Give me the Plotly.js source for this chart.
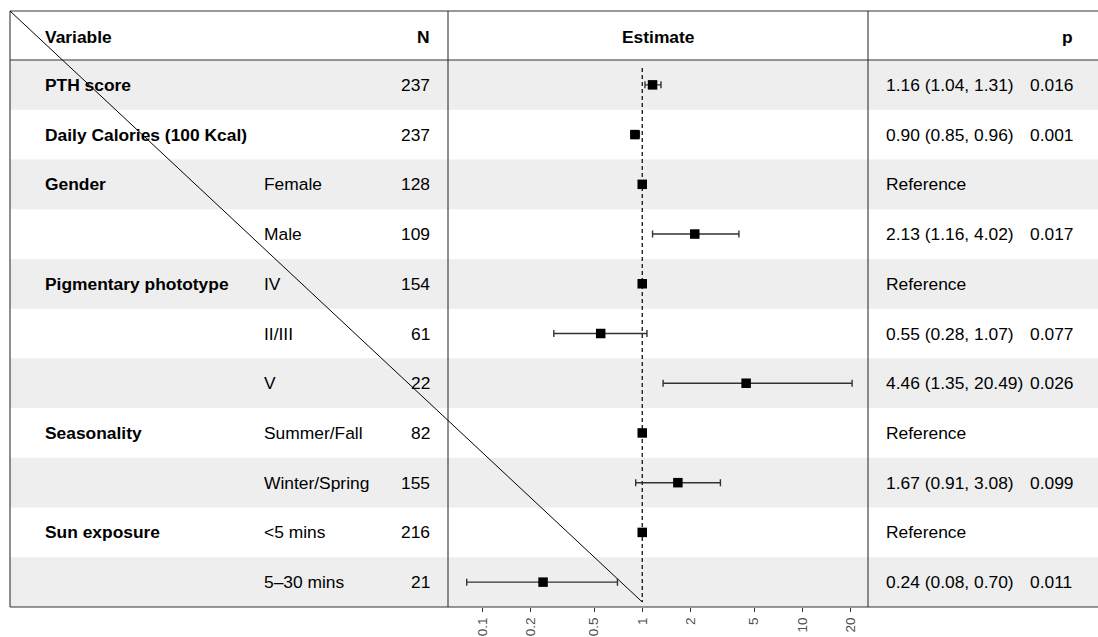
<!DOCTYPE html>
<html>
<head>
<meta charset="utf-8">
<script src="https://cdn.plot.ly/plotly-3.0.1.min.js"></script>
<style>html,body{margin:0;padding:0;background:#fff;}#chart{width:1098px;height:637px;}</style>
</head>
<body>
<div id="chart"></div>
<script>
// ---- data ----
const variables = ["PTH score", "Daily Calories (100 Kcal)", "Gender", "", "Pigmentary phototype", "", "", "Seasonality", "", "Sun exposure", ""];
const levels = ["", "", "Female", "Male", "IV", "II/III", "V", "Summer/Fall", "Winter/Spring", "<5 mins", "5\u201330 mins"];
const nObs = [237, 237, 128, 109, 154, 61, 22, 82, 155, 216, 21];
const estimate = [1.16, 0.90, 1, 2.13, 1, 0.55, 4.46, 1, 1.67, 1, 0.24];
const lower = [1.04, 0.85, null, 1.16, null, 0.28, 1.35, null, 0.91, null, 0.08];
const upper = [1.31, 0.96, null, 4.02, null, 1.07, 20.49, null, 3.08, null, 0.70];
const pValues = ["0.016", "0.001", "", "0.017", "", "0.077", "0.026", "", "0.099", "", "0.011"];
const tickValues = [0.1, 0.2, 0.5, 1, 2, 5, 10, 20];
const tickLabels = ["0.1", "0.2", "0.5", "1", "2", "5", "10", "20"];
const headers = {variable: "Variable", n: "N", estimate: "Estimate", p: "p"};

// ---- layout geometry (pixels) ----
const W = 1098, H = 637;
const tblLeft = 10, tblTop = 11, headBottom = 60, tblBottom = 607;
const col1 = 448, col2 = 868;
const px = x => x / W;
const py = y => 1 - y / H;
const FONT = "Liberation Sans, Arial, sans-serif";
const FS = 17.4;
const logRange = [-1.214, 1.411];
const xDomain = [px(col1), px(col2)];

const rows = estimate.map((_, i) => i + 1);

const ciText = estimate.map((e, i) => lower[i] === null ? "Reference" :
  e.toFixed(2) + " (" + lower[i].toFixed(2) + ", " + upper[i].toFixed(2) + ")");

// ---- traces ----
const refLine = {
  x: [1, 1], y: [0.66, 11.4], mode: "lines", type: "scatter",
  line: {color: "#000", width: 1.2, dash: "4px,3px"}, hoverinfo: "skip", showlegend: false
};
const points = {
  x: estimate, y: rows, type: "scatter", mode: "markers",
  marker: {symbol: "square", size: 9.5, color: "#000", line: {width: 0}},
  error_x: {
    type: "data", symmetric: false,
    array: estimate.map((e, i) => upper[i] === null ? null : upper[i] - e),
    arrayminus: estimate.map((e, i) => lower[i] === null ? null : e - lower[i]),
    color: "#333", thickness: 1.4, width: 3.5
  },
  showlegend: false, hoverinfo: "skip"
};

// ---- shapes ----
const shapes = [];
rows.forEach((r, i) => {
  if (i % 2 === 0) {
    shapes.push({type: "rect", xref: "paper", yref: "y", x0: px(tblLeft), x1: 1, y0: r - 0.5, y1: r + 0.5,
      fillcolor: "#eeeeee", line: {width: 0}, layer: "below"});
  }
});
const lineCol = "#333";
[[tblLeft, tblTop, W, tblTop], [tblLeft, headBottom, W, headBottom], [tblLeft, tblBottom, W, tblBottom],
 [tblLeft, tblTop, tblLeft, tblBottom], [col1, tblTop, col1, tblBottom], [col2, tblTop, col2, tblBottom]].forEach(s => {
  shapes.push({type: "line", xref: "paper", yref: "paper", x0: px(s[0]), y0: py(s[1]), x1: px(s[2]), y1: py(s[3]),
    line: {color: lineCol, width: 1.1}, layer: "above"});
});
// diagonal from table corner to the reference value at the bottom of the panel
const xOnePaper = xDomain[0] + (0 - logRange[0]) / (logRange[1] - logRange[0]) * (xDomain[1] - xDomain[0]);
shapes.push({type: "line", xref: "paper", yref: "paper", x0: px(tblLeft), y0: py(tblTop), x1: xOnePaper, y1: py(602),
  line: {color: "#000", width: 1}, layer: "above"});

// ---- annotations ----
const ann = [];
function addText(text, x, y, anchor, bold, yref) {
  ann.push({text: bold ? "<b>" + text + "</b>" : text, xref: "paper", yref: yref || "y",
    x: px(x), y: y, xanchor: anchor, yanchor: "middle", showarrow: false,
    font: {family: FONT, size: FS, color: "#000"}, borderpad: 0});
}
addText(headers.variable, 44, py(37), "left", true, "paper");
addText(headers.n, 431, py(37), "right", true, "paper");
addText(headers.estimate, 658, py(37), "center", true, "paper");
addText(headers.p, 1074, py(37), "right", true, "paper");
rows.forEach((r, i) => {
  if (variables[i]) addText(variables[i], 44, r, "left", true);
  if (levels[i]) addText(levels[i], 263, r, "left", false);
  addText(String(nObs[i]), 431, r, "right", false);
  addText(ciText[i], 885, r, "left", false);
  if (pValues[i]) addText(pValues[i], 1029, r, "left", false);
});

const layout = {
  width: W, height: H, autosize: false,
  margin: {l: 0, r: 0, t: 0, b: 0, pad: 0},
  paper_bgcolor: "#fff", plot_bgcolor: "rgba(0,0,0,0)",
  showlegend: false,
  xaxis: {
    type: "log", domain: xDomain, range: logRange,
    tickvals: tickValues, ticktext: tickLabels, tickangle: -90,
    ticks: "outside", ticklen: 4, tickwidth: 1, tickcolor: "#333",
    tickfont: {family: FONT, size: 13.5, color: "#4d4d4d"},
    showgrid: false, zeroline: false, showline: false, fixedrange: true
  },
  yaxis: {
    domain: [py(tblBottom), py(headBottom)], range: [11.5, 0.5],
    showticklabels: false, showgrid: false, zeroline: false, ticks: "", showline: false, fixedrange: true
  },
  shapes: shapes,
  annotations: ann
};

Plotly.newPlot("chart", [refLine, points], layout, {displayModeBar: false, staticPlot: true});
</script>
</body>
</html>
